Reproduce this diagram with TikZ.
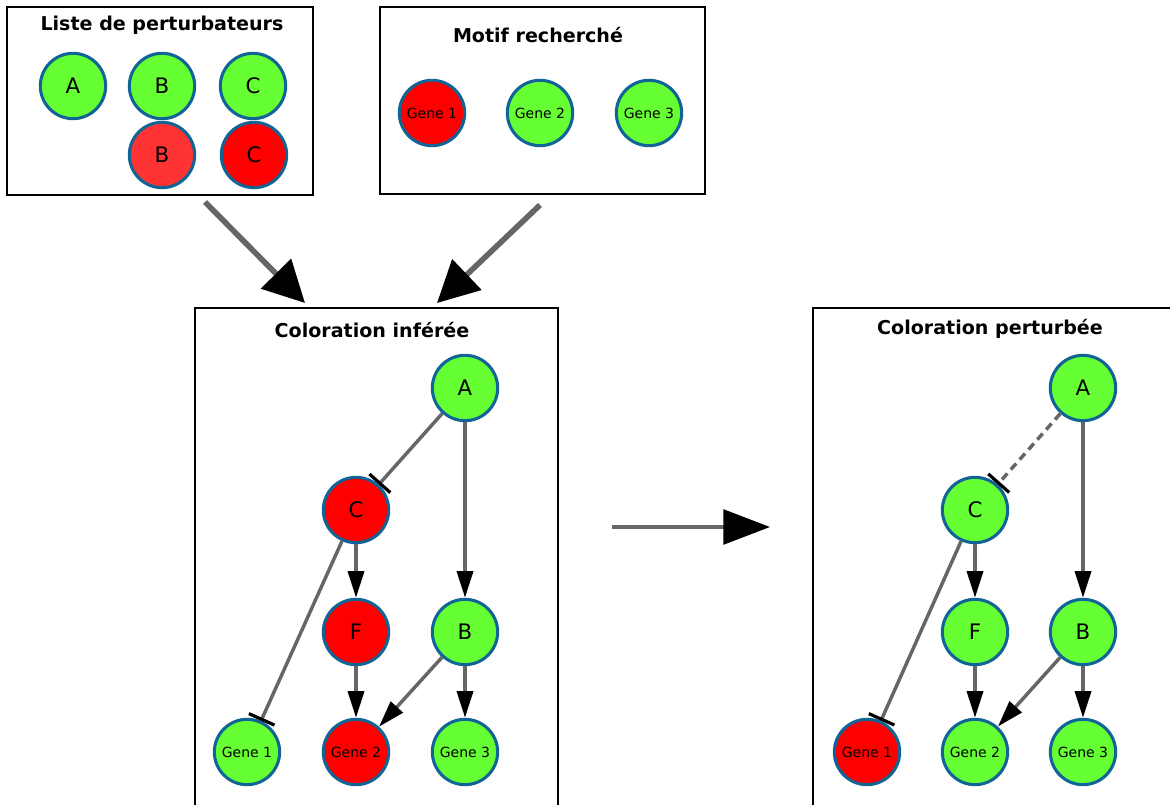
\documentclass[tikz,border=0pt]{standalone}
\usepackage{fontspec}
\setmainfont{DejaVu Sans}
\usetikzlibrary{arrows.meta,positioning}
\definecolor{vert}{RGB}{102,255,51}
\definecolor{rouge}{RGB}{255,0,0}
\definecolor{rougeclair}{RGB}{255,51,51}
\definecolor{bord}{RGB}{16,100,150}
\definecolor{gris}{RGB}{102,102,102}
\tikzset{
  gene/.style={circle,draw=bord,line width=2.3pt,minimum size=49pt,inner sep=0pt,font=\fontsize{16}{18}\selectfont},
  petit/.style={font=\fontsize{10.5}{12}\selectfont},
  on/.style={gene,fill=vert},
  off/.style={gene,fill=rouge},
  act/.style={draw=gris,line width=2.6pt,-{Triangle[color=black,length=20pt,width=12pt]}},
  inh/.style={draw=gris,line width=2.6pt,-{Bar[color=black,width=21pt,line width=2.4pt]}},
  cadre/.style={draw,line width=1.1pt},
  titre/.style={font=\bfseries\fontsize{14.3}{16}\selectfont},
  gros/.style={draw=gris,line width=4.2pt,-{Triangle[color=black,length=31pt,width=31pt]}}
}
\begin{document}
\begin{tikzpicture}[x=0.75pt,y=-0.75pt]
\useasboundingbox (0,0) rectangle (1170,805);
\clip (0,0) rectangle (1170,805);
% boites
\draw[cadre] (7,7) rectangle (313,195);
\draw[cadre] (380,7) rectangle (705,194);
\draw[cadre] (195,308) rectangle (558,830);
\draw[cadre] (813,308) rectangle (1190,830);
\node[titre] (tl) at (162,25) {Liste de perturbateurs};
\node[titre] (tm) at (538,35) {Motif recherché};
\node[titre] (ti) at (372,330) {Coloration inférée};
\node[titre] (tp) at (990,329) {Coloration perturbée};
% liste
\node[on] (lA) at (73,86) {A};
\node[on] (lB) at (162,86) {B};
\node[on] (lC) at (253,86) {C};
\node[gene,fill=rougeclair] (lBr) at (162,155) {B};
\node[off] (lCr) at (254,155) {C};
% motif
\node[off,petit] (mG1) at (432,113) {Gene 1};
\node[on,petit] (mG2) at (540,113) {Gene 2};
\node[on,petit] (mG3) at (649,113) {Gene 3};
% fleches
\coordinate (f1s) at (205,202);
\coordinate (f1e) at (305,303);
\coordinate (f2s) at (540,205);
\coordinate (f2e) at (437,303);
\coordinate (f3s) at (612,527);
\coordinate (f3e) at (770,527);
\draw[gros] (f1s) -- (f1e);
\draw[gros] (f2s) -- (f2e);
\draw[draw=gris,line width=2.8pt,-{Triangle[color=black,length=35pt,width=26pt]}] (f3s) -- (f3e);
% coloration inferee
\node[on] (iA) at (465,388) {A};
\node[off] (iC) at (356,510) {C};
\node[off] (iF) at (356,632) {F};
\node[on] (iB) at (465,632) {B};
\node[on,petit] (iG1) at (247,752) {Gene 1};
\node[off,petit] (iG2) at (356,752) {Gene 2};
\node[on,petit] (iG3) at (465,752) {Gene 3};
\draw[inh] (iA) -- (iC);
\draw[act] (iA) -- (iB);
\draw[act] (iC) -- (iF);
\draw[inh] (iC) -- (iG1);
\draw[act] (iF) -- (iG2);
\draw[act] (iB) -- (iG2);
\draw[act] (iB) -- (iG3);
% coloration perturbee
\node[on] (pA) at (1083,388) {A};
\node[on] (pC) at (975,510) {C};
\node[on] (pF) at (975,632) {F};
\node[on] (pB) at (1083,632) {B};
\node[off,petit] (pG1) at (867,752) {Gene 1};
\node[on,petit] (pG2) at (975,752) {Gene 2};
\node[on,petit] (pG3) at (1083,752) {Gene 3};
\draw[inh,dash pattern=on 6pt off 4pt] (pA) -- (pC);
\draw[act] (pA) -- (pB);
\draw[act] (pC) -- (pF);
\draw[inh] (pC) -- (pG1);
\draw[act] (pF) -- (pG2);
\draw[act] (pB) -- (pG2);
\draw[act] (pB) -- (pG3);
\end{tikzpicture}
\end{document}
